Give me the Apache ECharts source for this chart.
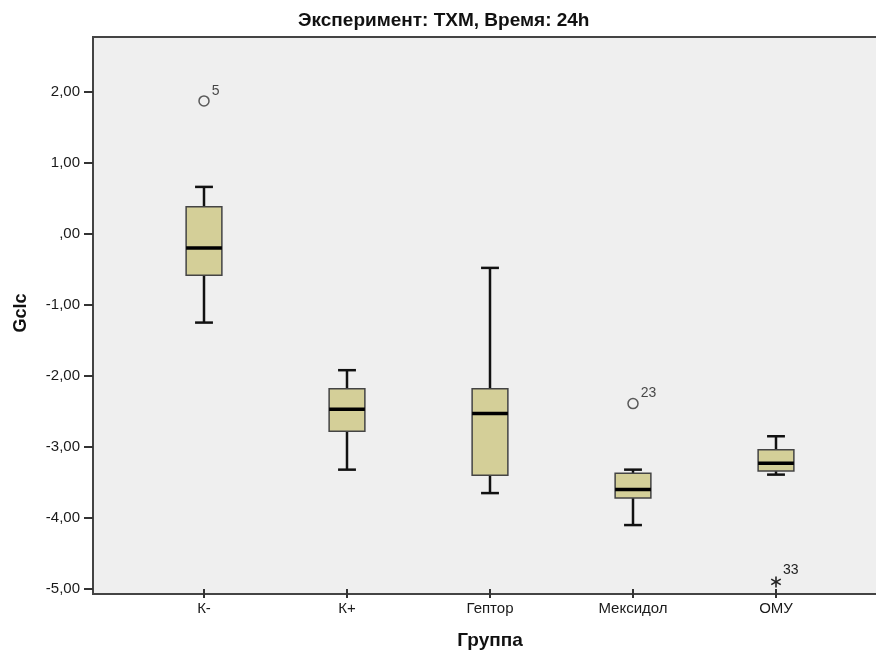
<!DOCTYPE html>
<html>
<head>
<meta charset="utf-8">
<script src="https://cdn.jsdelivr.net/npm/echarts@6/dist/echarts.min.js"></script>
<style>
html,body{margin:0;padding:0;background:#fff;}
#c{width:876px;height:655px;}
</style>
</head>
<body>
<div id="c"></div>
<script>
// ---- data ----
const categories = ['К-', 'К+', 'Гептор', 'Мексидол', 'ОМУ'];
const whiskerLow = [-1.25, -3.32, -3.65, -4.10, -3.39];
const q1         = [-0.585, -2.78, -3.40, -3.72, -3.34];
const median     = [-0.20, -2.47, -2.53, -3.60, -3.23];
const q3         = [0.38, -2.18, -2.18, -3.37, -3.04];
const whiskerHigh= [0.66, -1.92, -0.48, -3.32, -2.85];
const outlierCat = [0, 3];
const outlierVal = [1.87, -2.39];
const outlierId  = ['5', '23'];
const extremeCat = [4];
const extremeVal = [-4.90];
const extremeId  = ['33'];
const yTicks = [-5, -4, -3, -2, -1, 0, 1, 2];
const yMin = -5, yMax = 2.77;

const boxData = categories.map((c, i) => [i, whiskerLow[i], q1[i], median[i], q3[i], whiskerHigh[i]]);
const outData = outlierCat.map((c, i) => [c, outlierVal[i], outlierId[i]]);
const extData = extremeCat.map((c, i) => [c, extremeVal[i], extremeId[i]]);

function fmt(v) {
  if (Math.abs(v - Math.round(v)) > 1e-6) return '';
  let s = v.toFixed(2).replace('.', ',');
  if (s === '0,00' || s === '-0,00') s = ',00';
  return s;
}

const FONT = '"Liberation Sans", Arial, sans-serif';

function renderBox(params, api) {
  const x = api.value(0);
  const pLow = api.coord([x, api.value(1)]);
  const pQ1 = api.coord([x, api.value(2)]);
  const pMed = api.coord([x, api.value(3)]);
  const pQ3 = api.coord([x, api.value(4)]);
  const pHigh = api.coord([x, api.value(5)]);
  const bw = api.size([1, 0])[0] * 0.25;
  const cw = bw * 0.5;
  const cx = pMed[0];
  const wStyle = { stroke: '#111', lineWidth: 2.5 };
  return {
    type: 'group',
    children: [
      { type: 'line', shape: { x1: cx, y1: pHigh[1], x2: cx, y2: pQ3[1] }, style: wStyle },
      { type: 'line', shape: { x1: cx, y1: pQ1[1], x2: cx, y2: pLow[1] }, style: wStyle },
      { type: 'line', shape: { x1: cx - cw / 2, y1: pHigh[1], x2: cx + cw / 2, y2: pHigh[1] }, style: wStyle },
      { type: 'line', shape: { x1: cx - cw / 2, y1: pLow[1], x2: cx + cw / 2, y2: pLow[1] }, style: wStyle },
      { type: 'rect', shape: { x: cx - bw / 2, y: pQ3[1], width: bw, height: pQ1[1] - pQ3[1] },
        style: { fill: '#d4cf98', stroke: '#444', lineWidth: 1.5 } },
      { type: 'line', shape: { x1: cx - bw / 2, y1: pMed[1], x2: cx + bw / 2, y2: pMed[1] },
        style: { stroke: '#000', lineWidth: 3.5 } }
    ]
  };
}

function renderStar(params, api) {
  const p = api.coord([api.value(0), api.value(1)]);
  const r = 5.5;
  const s = { stroke: '#222', lineWidth: 1.6 };
  const a = Math.PI / 6;
  return {
    type: 'group',
    children: [
      { type: 'line', shape: { x1: p[0], y1: p[1] - r, x2: p[0], y2: p[1] + r }, style: s },
      { type: 'line', shape: { x1: p[0] - r * Math.cos(a), y1: p[1] - r * Math.sin(a), x2: p[0] + r * Math.cos(a), y2: p[1] + r * Math.sin(a) }, style: s },
      { type: 'line', shape: { x1: p[0] - r * Math.cos(a), y1: p[1] + r * Math.sin(a), x2: p[0] + r * Math.cos(a), y2: p[1] - r * Math.sin(a) }, style: s },
      { type: 'text', x: p[0] + 7, y: p[1] - 5,
        style: { text: api.value(2) + '', fill: '#222', font: '14px ' + FONT, textVerticalAlign: 'bottom', textAlign: 'left' } }
    ]
  };
}

const chart = echarts.init(document.getElementById('c'), null, { renderer: 'canvas' });
chart.setOption({
  animation: false,
  backgroundColor: '#fff',
  title: {
    text: 'Эксперимент: ТХМ, Время: 24h',
    left: 298, top: 11, padding: 0,
    textStyle: { fontFamily: FONT, fontSize: 19, fontWeight: 'bold', color: '#111' }
  },
  grid: { left: 132.5, top: 37, width: 715, bottom: 61 },
  graphic: [
    { type: 'rect', z: -10, shape: { x: 93, y: 37, width: 820, height: 557 },
      style: { fill: '#efefef', stroke: '#444', lineWidth: 2 } }
  ],
  xAxis: {
    type: 'category',
    data: categories,
    boundaryGap: true,
    axisLine: { show: false, onZero: false },
    axisTick: { show: true, alignWithLabel: true, length: 9, lineStyle: { color: '#333', width: 2 } },
    axisLabel: { fontFamily: FONT, fontSize: 15, color: '#1a1a1a', margin: 12 },
    name: 'Группа',
    nameLocation: 'middle',
    nameGap: 42,
    nameTextStyle: { fontFamily: FONT, fontSize: 19, fontWeight: 'bold', color: '#111' }
  },
  yAxis: {
    type: 'value',
    min: yMin, max: yMax,
    offset: 39.5,
    axisLine: { show: false },
    splitLine: { show: false },
    axisTick: { show: true, length: 9, customValues: yTicks, lineStyle: { color: '#333', width: 2 } },
    axisLabel: { customValues: yTicks, formatter: fmt, fontFamily: FONT, fontSize: 15, color: '#1a1a1a', margin: 13 },
    name: 'Gclc',
    nameLocation: 'middle',
    nameRotate: 90,
    nameGap: 63,
    nameTextStyle: { fontFamily: FONT, fontSize: 18, fontWeight: 'bold', color: '#111' }
  },
  series: [
    {
      type: 'custom',
      data: boxData,
      encode: { x: 0, y: [1, 2, 3, 4, 5] },
      renderItem: renderBox,
      z: 3
    },
    {
      type: 'scatter',
      data: outData,
      symbol: 'circle',
      symbolSize: 10,
      itemStyle: { color: '#efefef', borderColor: '#333', borderWidth: 1.5 },
      label: {
        show: true, position: 'right', distance: 2, offset: [0, -10],
        formatter: p => p.data[2],
        fontFamily: FONT, fontSize: 14, color: '#1a1a1a'
      },
      z: 4
    },
    {
      type: 'custom',
      data: extData,
      encode: { x: 0, y: 1 },
      renderItem: renderStar,
      z: 4
    }
  ]
});
</script>
</body>
</html>
